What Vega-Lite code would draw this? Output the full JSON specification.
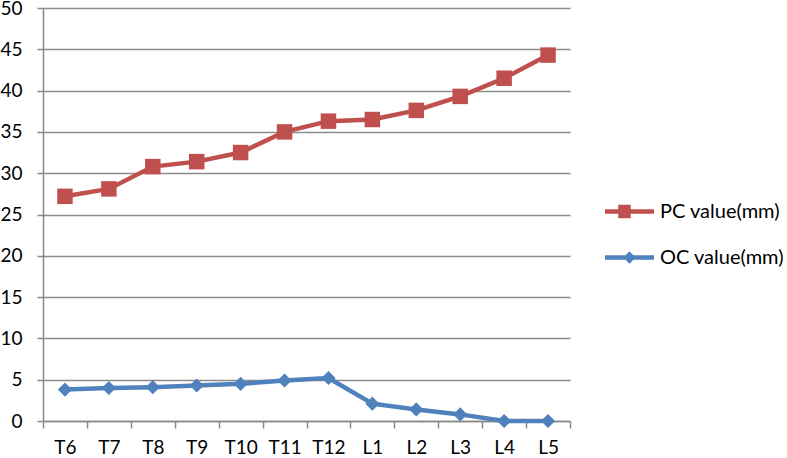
{
  "$schema": "https://vega.github.io/schema/vega-lite/v6.json",
  "autosize": {"type": "none"},
  "width": 527,
  "height": 413,
  "padding": {"left": 43, "top": 8, "right": 217, "bottom": 37},
  "background": "#ffffff",
  "config": {
    "font": "Lato",
    "view": {"stroke": null},
    "axis": {"labelFont": "Lato", "labelColor": "#000000", "labelFontSize": 19}
  },
  "data": {
    "values": [
      {"level": "T6", "series": "PC value(mm)", "value": 27.2},
      {"level": "T7", "series": "PC value(mm)", "value": 28.1},
      {"level": "T8", "series": "PC value(mm)", "value": 30.8},
      {"level": "T9", "series": "PC value(mm)", "value": 31.4},
      {"level": "T10", "series": "PC value(mm)", "value": 32.5},
      {"level": "T11", "series": "PC value(mm)", "value": 35.0},
      {"level": "T12", "series": "PC value(mm)", "value": 36.3},
      {"level": "L1", "series": "PC value(mm)", "value": 36.5},
      {"level": "L2", "series": "PC value(mm)", "value": 37.6},
      {"level": "L3", "series": "PC value(mm)", "value": 39.3},
      {"level": "L4", "series": "PC value(mm)", "value": 41.5},
      {"level": "L5", "series": "PC value(mm)", "value": 44.3},
      {"level": "T6", "series": "OC value(mm)", "value": 3.8},
      {"level": "T7", "series": "OC value(mm)", "value": 4.0},
      {"level": "T8", "series": "OC value(mm)", "value": 4.1},
      {"level": "T9", "series": "OC value(mm)", "value": 4.3},
      {"level": "T10", "series": "OC value(mm)", "value": 4.5},
      {"level": "T11", "series": "OC value(mm)", "value": 4.9},
      {"level": "T12", "series": "OC value(mm)", "value": 5.2},
      {"level": "L1", "series": "OC value(mm)", "value": 2.1},
      {"level": "L2", "series": "OC value(mm)", "value": 1.4},
      {"level": "L3", "series": "OC value(mm)", "value": 0.8},
      {"level": "L4", "series": "OC value(mm)", "value": 0.0},
      {"level": "L5", "series": "OC value(mm)", "value": 0.0}
    ]
  },
  "encoding": {
    "x": {
      "field": "level",
      "type": "ordinal",
      "sort": null,
      "scale": {"type": "band", "paddingInner": 0, "paddingOuter": 0},
      "axis": {
        "title": null,
        "labelAngle": 0,
        "tickBand": "extent",
        "domainColor": "#888888",
        "domainWidth": 1.5,
        "tickColor": "#888888",
        "tickWidth": 1.5,
        "tickSize": 7,
        "labelPadding": 10,
        "grid": false
      }
    },
    "y": {
      "field": "value",
      "type": "quantitative",
      "scale": {"domain": [0, 50], "nice": false},
      "axis": {
        "title": null,
        "values": [0, 5, 10, 15, 20, 25, 30, 35, 40, 45, 50],
        "grid": true,
        "gridColor": "#8c8c8c",
        "gridWidth": 1.5,
        "domainColor": "#888888",
        "domainWidth": 1.5,
        "tickColor": "#888888",
        "tickWidth": 1.5,
        "tickSize": 6,
        "labelPadding": 15
      }
    }
  },
  "layer": [
    {
      "mark": {"type": "line", "strokeWidth": 4.5},
      "encoding": {
        "color": {
          "field": "series",
          "type": "nominal",
          "scale": {"domain": ["PC value(mm)", "OC value(mm)"], "range": ["#C0504D", "#4F81BD"]},
          "legend": {
            "title": null,
            "orient": "none",
            "legendX": 574,
            "legendY": 191,
            "padding": 0,
            "symbolSize": 400,
            "symbolStrokeWidth": 4.5,
            "symbolType": {"expr": "datum.value === 'PC value(mm)' ? 'M-2.45,0H2.45 M-0.9,-0.45H-0.1V0.45H-0.9Z M-0.7,-0.2H-0.3V0.2H-0.7Z' : 'M-2.45,0H2.45 M0,-0.3L0.3,0L0,0.3L-0.3,0Z'"},
            "labelFontSize": 20,
            "labelFont": "Lato",
            "labelColor": "#000000",
            "labelOffset": 18,
            "rowPadding": 20
          }
        }
      }
    },
    {
      "transform": [{"filter": "datum.series === 'PC value(mm)'"}],
      "mark": {"type": "point", "shape": "square", "filled": true, "opacity": 1, "color": "#C0504D", "size": 240}
    },
    {
      "transform": [{"filter": "datum.series === 'OC value(mm)'"}],
      "mark": {"type": "point", "shape": "diamond", "filled": true, "opacity": 1, "color": "#4F81BD", "size": 200}
    }
  ]
}
